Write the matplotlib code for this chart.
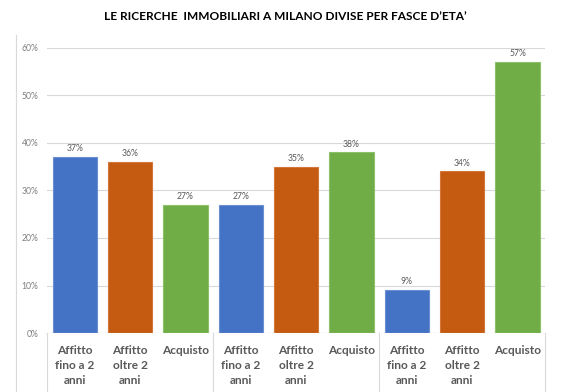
import matplotlib
matplotlib.use("Agg")
import matplotlib.pyplot as plt
from matplotlib.lines import Line2D

# values
categories = [["Affitto", "fino a 2", "anni"], ["Affitto", "oltre 2", "anni"], ["Acquisto"]] * 3
values = [0.37, 0.36, 0.27, 0.27, 0.35, 0.38, 0.09, 0.34, 0.57]
value_labels = ["37%", "36%", "27%", "27%", "35%", "38%", "9%", "34%", "57%"]
bar_colors = ["#4472C4", "#C55A11", "#70AD47"] * 3
edge_colors = ["#6A8FD3", "#D4783A", "#8CC06A"] * 3
y_ticks = [0, 0.1, 0.2, 0.3, 0.4, 0.5, 0.6]
y_tick_labels = ["0%", "10%", "20%", "30%", "40%", "50%", "60%"]
title = "LE RICERCHE  IMMOBILIARI A MILANO DIVISE PER FASCE D\u2019ETA\u2019"

plt.rcParams["font.family"] = ["Lato", "DejaVu Sans"]

fig = plt.figure(figsize=(5.7, 3.92), dpi=100)
ax = fig.add_axes([0.0825, 0.1505, 0.874, 0.7271])

x = list(range(len(values)))
ax.bar(x, values, width=0.8, color=bar_colors, edgecolor=edge_colors, linewidth=0.8, zorder=3)
for xi, v, lab in zip(x, values, value_labels):
    ax.text(xi, v + 0.008, lab, ha="center", va="bottom", fontsize=6.2, color="#595959")

ax.set_xlim(-0.5, 8.5)
ax.set_ylim(0, 0.6)
ax.set_yticks(y_ticks)
ax.set_yticklabels(y_tick_labels)
ax.tick_params(axis="y", length=0, labelsize=6.2, labelcolor="#7f7f7f", pad=6)
ax.set_xticks([])
ax.grid(axis="y", color="#d9d9d9", linewidth=0.8, zorder=0)
for s in ax.spines.values():
    s.set_visible(False)
ax.axhline(0, color="#d9d9d9", linewidth=0.8, zorder=4)

# category labels (one text per line, each centred) and group separators
line_offsets = [-0.036, -0.068, -0.100]
for xi, lines in zip(x, categories):
    for line, yo in zip(lines, line_offsets):
        ax.text(xi, yo, line, ha="center", va="center", fontsize=8.6,
                fontweight="bold", color="#595959", clip_on=False)
for b in [-0.5, 2.5, 5.5, 8.5]:
    ax.plot([b, b], [0, -0.13], color="#d9d9d9", linewidth=0.8, clip_on=False)

# outer frame line on the left
fig.add_artist(Line2D([16 / 570, 16 / 570], [0, 1 - 35 / 392], color="#d9d9d9", linewidth=0.8))

fig.text(0.5, 1 - 17 / 392, title, ha="center", va="center", fontsize=8.6, fontweight="bold", color="#000000")

fig.savefig("out.png", dpi=100, facecolor="white")
